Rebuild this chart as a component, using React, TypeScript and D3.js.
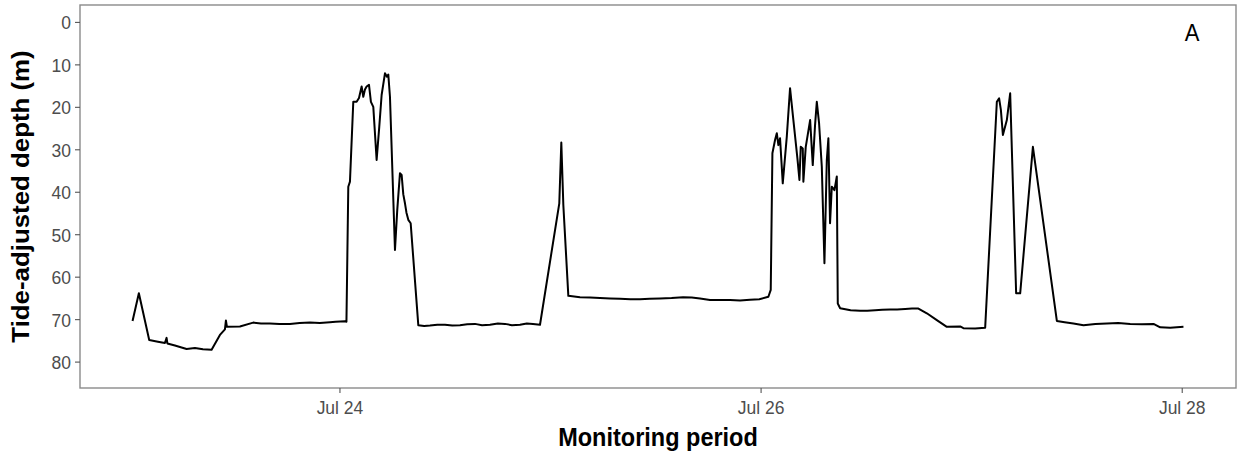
import * as d3 from "d3";
import React from "react";

// hours since Jul 23 00:00 and tide-adjusted depth (m)
const hours = [
  0.36, 1.08, 2.26, 3.25, 4.05, 4.24, 4.33, 5.19, 6.52, 7.47, 8.38, 9.37, 10.32, 10.89, 11.0, 11.12,
  12.6, 14.11, 15.0, 16.02, 17.1, 18.3, 19.4, 20.58, 21.7, 22.86, 23.5, 24.57, 24.74,
  24.95, 25.14, 25.52, 25.9, 26.17, 26.47, 26.66, 26.85, 27.04, 27.31, 27.53, 27.8, 28.18, 28.48,
  28.75, 29.13, 29.36, 29.51, 29.7, 30.27, 30.53, 30.84, 31.03, 31.22, 31.41, 31.58, 31.79, 32.06,
  32.93, 33.6, 34.26, 35.1, 35.97, 36.8, 37.68, 38.5, 39.39, 40.2, 41.1, 42.0, 42.81, 43.6, 44.52,
  45.3, 46.0, 46.8, 49.0, 49.23, 49.46, 50.03, 51.36, 52.5, 53.64, 54.8, 55.92, 57.1, 58.2, 59.3,
  60.48, 61.8, 63.11, 64.1, 65.04, 66.18, 67.3, 68.46, 69.6, 70.74, 71.8, 72.83,
  73.1, 73.29, 73.59, 73.79, 73.97, 74.16, 74.47, 74.93, 75.3, 75.68, 76.14, 76.37, 76.52, 76.75,
  76.82, 77.09, 77.59, 77.89, 78.15, 78.35, 78.61, 78.92, 79.22, 79.49, 79.67, 79.86, 80.06, 80.36,
  80.63, 80.74, 81.01, 82.2, 83.29, 84.1, 85.0, 85.8, 86.71, 87.5, 88.42, 89.2, 89.93, 90.89,
  92.03, 93.17, 94.69, 95.06, 96.4, 97.54, 98.87, 99.13, 99.33, 99.56, 100.01, 100.39, 101.07,
  101.53, 102.98, 105.71, 106.6, 107.6, 108.75, 110.1, 111.41, 112.7, 114.07, 115.4, 116.73,
  117.49, 118.63, 120.14,
];
const depth = [
  70.3, 63.8, 74.8, 75.2, 75.5, 74.3, 75.6, 76.1, 76.9, 76.7, 77.0, 77.1, 73.6, 72.3, 70.2, 71.7,
  71.6, 70.7, 70.9, 70.9, 71.0, 71.0, 70.8, 70.7, 70.8, 70.6, 70.5, 70.4, 70.5,
  38.7, 37.5, 18.7, 18.7, 17.8, 15.1, 17.5, 15.8, 15.1, 14.7, 18.7, 19.9, 32.4, 24.6,
  17.1, 12.0, 12.8, 12.3, 17.5, 53.6, 44.2, 35.5, 35.9, 40.5, 42.6, 44.8, 46.5, 47.3,
  71.3, 71.5, 71.4, 71.2, 71.2, 71.4, 71.3, 71.1, 71.0, 71.3, 71.2, 70.9, 71.0, 71.3, 71.2,
  70.9, 71.0, 71.2, 42.6, 28.3, 43.0, 64.4, 64.7, 64.8, 64.9, 65.0, 65.1, 65.2, 65.2, 65.1,
  65.0, 64.9, 64.7, 64.8, 65.0, 65.4, 65.4, 65.4, 65.5, 65.3, 65.2, 64.6,
  63.0, 30.8, 27.7, 26.1, 28.9, 27.3, 37.9, 26.9, 15.5, 23.0, 32.0, 37.1, 29.3, 29.7,
  37.5, 29.3, 23.0, 33.6, 24.2, 18.7, 23.8, 34.0, 56.7, 32.4, 27.3, 47.3, 38.7, 39.5,
  36.3, 66.2, 67.3, 67.8, 67.9, 67.9, 67.8, 67.7, 67.6, 67.6, 67.5, 67.4, 67.4, 68.5,
  70.1, 71.7, 71.6, 72.0, 72.1, 71.9, 18.7, 17.9, 20.6, 26.5, 23.0, 16.7, 63.8,
  63.8, 29.3, 70.3, 70.6, 70.9, 71.3, 71.0, 70.9, 70.8, 71.0, 71.1, 71.0,
  71.8, 71.9, 71.7,
];
const yTicks = [0, 10, 20, 30, 40, 50, 60, 70, 80];
const xTickDays = [24, 26, 28];
const yLimits = [0, 82];

const start = Date.UTC(2019, 6, 23);
const toDate = (h: number) => new Date(start + h * 3600 * 1000);

const W = 1238;
const H = 455;
const left = 80;
const right = 1236;
const top = 5;
const bottom = 388;
const stretch = 1.1; // text in the source looks a bit taller than wide

export default function App() {
  const data = hours.map((h, i) => ({ t: toDate(h), d: depth[i] }));

  const [t0, t1] = d3.extent(data, (d) => d.t.getTime()) as [number, number];
  const padX = (t1 - t0) * 0.05;
  const x = d3
    .scaleUtc()
    .domain([new Date(t0 - padX), new Date(t1 + padX)])
    .range([left, right]);

  const padY = (yLimits[1] - yLimits[0]) * 0.05;
  const y = d3
    .scaleLinear()
    .domain([yLimits[0] - padY, yLimits[1] + padY])
    .range([top, bottom]);

  const line = d3
    .line<{ t: Date; d: number }>()
    .x((d) => x(d.t))
    .y((d) => y(d.d));

  const fmt = d3.utcFormat("%b %-d");
  const xTicks = xTickDays.map((day) => new Date(Date.UTC(2019, 6, day)));

  return (
    <svg
      width={W}
      height={H}
      style={{ position: "absolute", left: 0, top: 0, background: "#fff" }}
      fontFamily="'Liberation Sans', Arial, sans-serif"
    >
      <rect x={0} y={0} width={W} height={H} fill="#fff" />
      <path d={line(data) ?? ""} fill="none" stroke="#000" strokeWidth={2} strokeLinejoin="round" />
      <rect
        x={left}
        y={top}
        width={right - left}
        height={bottom - top}
        fill="none"
        stroke="#8a8a8a"
        strokeWidth={1.4}
      />

      {yTicks.map((v) => (
        <g key={v} transform={`translate(0,${y(v)})`}>
          <line x1={left - 5} x2={left} stroke="#555" strokeWidth={1.1} />
          <text
            transform={`translate(${left - 9},0) scale(1,${stretch})`}
            dy="0.36em"
            textAnchor="end"
            fontSize={17.5}
            fill="#4d4d4d"
          >
            {v}
          </text>
        </g>
      ))}

      {xTicks.map((d) => (
        <g key={d.getTime()} transform={`translate(${x(d)},0)`}>
          <line y1={bottom} y2={bottom + 5} stroke="#555" strokeWidth={1.1} />
          <text
            transform={`translate(0,${bottom + 19}) scale(1,${stretch})`}
            dy="0.36em"
            textAnchor="middle"
            fontSize={17.5}
            fill="#4d4d4d"
          >
            {fmt(d)}
          </text>
        </g>
      ))}

      <text
        transform={`translate(${(left + right) / 2},437) scale(1,${stretch})`}
        dy="0.36em"
        textAnchor="middle"
        fontSize={23.5}
        fontWeight="bold"
      >
        Monitoring period
      </text>
      <text
        transform={`translate(21,${(top + bottom) / 2}) rotate(-90) scale(${stretch},1)`}
        dy="0.36em"
        textAnchor="middle"
        fontSize={23.5}
        fontWeight="bold"
      >
        Tide-adjusted depth (m)
      </text>
      <text
        transform={`translate(1192,32) scale(1,${stretch})`}
        dy="0.36em"
        textAnchor="middle"
        fontSize={22}
      >
        A
      </text>
    </svg>
  );
}
